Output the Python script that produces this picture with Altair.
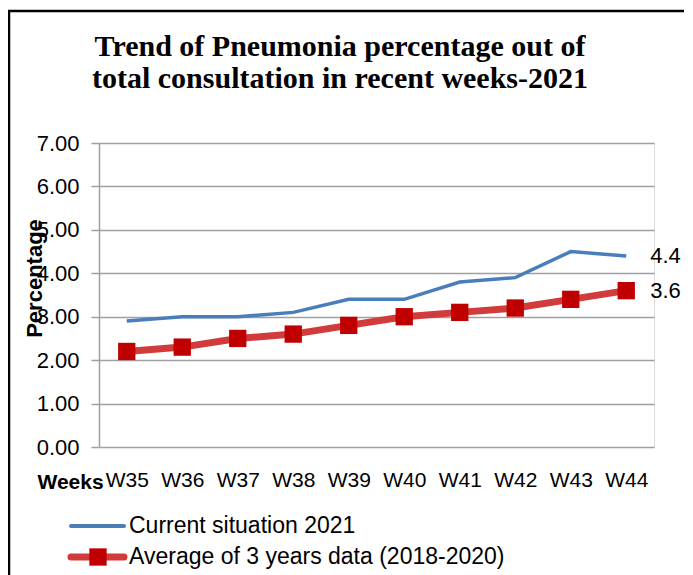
import altair as alt
import pandas as pd

weeks = ["W35", "W36", "W37", "W38", "W39", "W40", "W41", "W42", "W43", "W44"]
current_2021 = [2.9, 3.0, 3.0, 3.1, 3.4, 3.4, 3.8, 3.9, 4.5, 4.4]
avg_2018_2020 = [2.2, 2.3, 2.5, 2.6, 2.8, 3.0, 3.1, 3.2, 3.4, 3.6]
series_names = ["Current situation 2021", "Average of 3 years data (2018-2020)"]
end_labels = ["4.4", "3.6"]
title_lines = ["Trend of Pneumonia percentage out of", "total consultation in recent weeks-2021"]

BLUE = "#4a7ebb"
RED_LINE = "#d23b3b"
RED_MARK = "#c00000"
FONT = "Liberation Sans"

df_cur = pd.DataFrame({"week": weeks, "value": current_2021})
df_avg = pd.DataFrame({"week": weeks, "value": avg_2018_2020})

x_enc = alt.X(
    "week:N", sort=weeks,
    scale=alt.Scale(type="point", padding=0.5),
    axis=alt.Axis(
        title="Weeks", titleFont=FONT, titleFontSize=21, titleFontWeight="bold",
        titleX=-62, titleY=41, titleAlign="left", titleBaseline="alphabetic",
        labelFont=FONT, labelFontSize=21, labelColor="#000", labelAngle=0,
        labelPadding=22, ticks=False, domain=False, grid=False,
    ),
)
y_enc = alt.Y(
    "value:Q",
    scale=alt.Scale(domain=[0, 7], nice=False, zero=True),
    axis=alt.Axis(
        title="Percentage", titleFont=FONT, titleFontSize=22, titleFontWeight="bold",
        titleX=-65, titleY=135, titleAlign="center", titleBaseline="middle", titleAngle=270,
        labelFont=FONT, labelFontSize=22, labelColor="#000", format=".2f",
        values=[0, 1, 2, 3, 4, 5, 6, 7], tickCount=8,
        tickSize=8, tickColor="#a0a0a0", tickWidth=1.5, labelPadding=12,
        domain=True, domainColor="#a0a0a0", domainWidth=1.5,
        grid=True, gridColor="#a0a0a0", gridWidth=1.5,
    ),
)

line_cur = alt.Chart(df_cur).mark_line(color=BLUE, strokeWidth=3.5).encode(x=x_enc, y=y_enc)
line_avg = alt.Chart(df_avg).mark_line(color=RED_LINE, strokeWidth=7).encode(x=x_enc, y=y_enc)
pts_avg = alt.Chart(df_avg).mark_point(
    shape="square", filled=True, color=RED_MARK, size=300, opacity=1
).encode(x=x_enc, y=y_enc)

df_lab = pd.DataFrame({
    "week": [weeks[-1], weeks[-1]],
    "value": [current_2021[-1], avg_2018_2020[-1]],
    "label": end_labels,
})
labels = alt.Chart(df_lab).mark_text(
    align="left", baseline="middle", dx=24, font=FONT, fontSize=22, color="#000"
).encode(x=x_enc, y=y_enc, text="label:N")

# Title as text (two lines)
df_title = pd.DataFrame({"t": [title_lines]})
title = alt.Chart(df_title).mark_text(
    align="center", baseline="middle", font="Liberation Serif", fontSize=30,
    fontWeight="bold", color="#000", lineHeight=32,
).encode(x=alt.value(241), y=alt.value(-96), text="t")

# Legend (drawn manually, below the plot)
df_leg = pd.DataFrame({"name": series_names})
leg_line1 = alt.Chart(df_leg.iloc[[0]]).mark_rule(color=BLUE, strokeWidth=4, strokeCap="round").encode(
    x=alt.value(-28), x2=alt.value(25), y=alt.value(383))
leg_line2 = alt.Chart(df_leg.iloc[[1]]).mark_rule(color=RED_LINE, strokeWidth=7, strokeCap="round").encode(
    x=alt.value(-28), x2=alt.value(25), y=alt.value(414))
leg_sq = alt.Chart(df_leg.iloc[[1]]).mark_point(
    shape="square", filled=True, color=RED_MARK, size=300, opacity=1).encode(
    x=alt.value(-1), y=alt.value(414))
leg_txt1 = alt.Chart(df_leg.iloc[[0]]).mark_text(
    align="left", baseline="middle", font=FONT, fontSize=23, color="#000").encode(
    x=alt.value(30), y=alt.value(383), text="name:N")
leg_txt2 = alt.Chart(df_leg.iloc[[1]]).mark_text(
    align="left", baseline="middle", font=FONT, fontSize=23, color="#000").encode(
    x=alt.value(30), y=alt.value(414), text="name:N")

frame = alt.Chart(df_leg.iloc[[0]]).mark_rect(fill=None, stroke="#000", strokeWidth=2.5).encode(
    x=alt.value(-90), x2=alt.value(700), y=alt.value(-132), y2=alt.value(700))

chart = alt.layer(
    frame, title, line_cur, line_avg, pts_avg, labels,
    leg_line1, leg_line2, leg_sq, leg_txt1, leg_txt2,
).properties(
    width=555, height=304,
    autosize=alt.AutoSizeParams(type="none"),
    padding={"left": 91, "top": 135, "right": 30, "bottom": 140},
).configure_view(stroke=None).configure(background="white")

chart.save("out.html", embed_options={"renderer": "svg", "actions": False})
